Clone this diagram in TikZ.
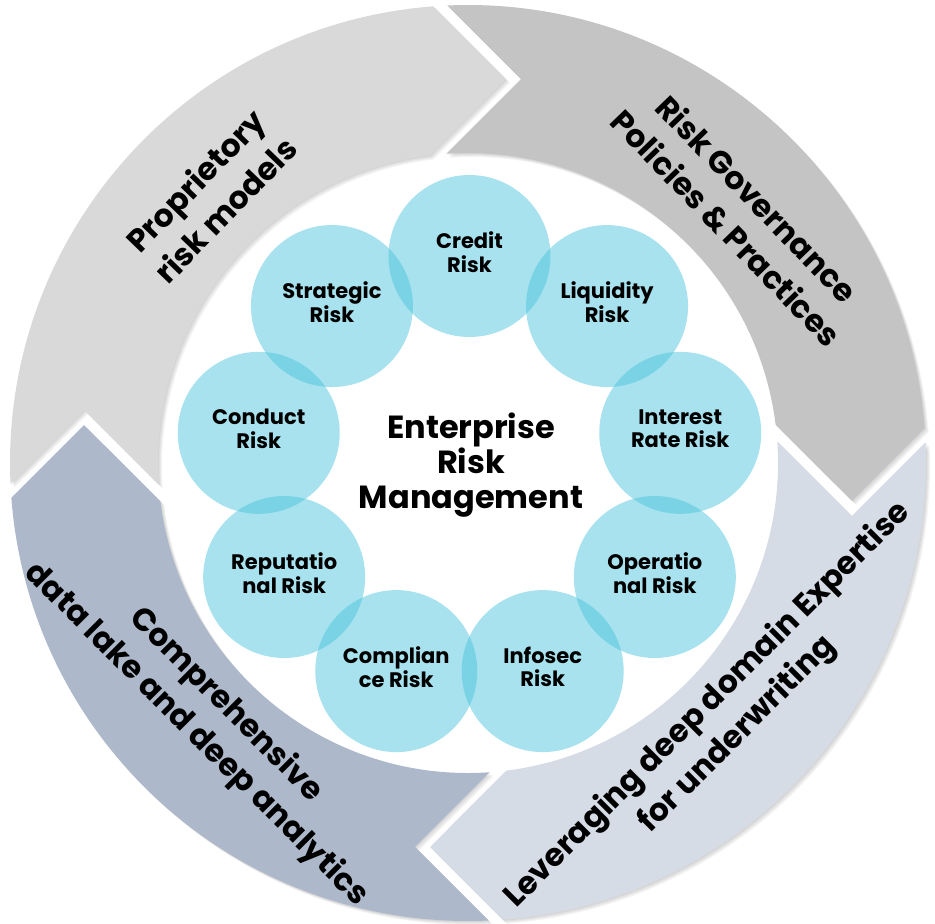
\documentclass[tikz,border=0pt]{standalone}
\usepackage{fontspec}
\setmainfont{Poppins}
\definecolor{segA}{HTML}{D9D9D9}
\definecolor{segB}{HTML}{C4C4C4}
\definecolor{segC}{HTML}{D6DCE5}
\definecolor{segD}{HTML}{ADB9CA}
\definecolor{riskfill}{HTML}{4FC5DD}
\newcommand\ringpath[1]{({92.57+#1}:458) arc[start angle={92.57+#1}, end angle={4.35+#1}, radius=458] -- ({-5.65+#1}:385.9) -- ({7.1+#1}:310) arc[start angle={7.1+#1}, end angle={94.0+#1}, radius=310] -- ({82.14+#1}:387.6) -- cycle}
\begin{document}
\begin{tikzpicture}[x=1pt,y=1pt,
  riskc/.style={circle, minimum size=162, inner sep=0pt, fill=riskfill, fill opacity=0.5, text opacity=1},
  risktxt/.style={align=center, inner sep=0pt, font=\bfseries\fontsize{21}{23.5}\selectfont},
  ringtxt/.style={align=center, inner sep=0pt, font=\bfseries\fontsize{31.5}{42}\selectfont},
  shadowfill/.style={black, opacity=0.045}]
\useasboundingbox (-468,-461) rectangle (467,463);
% shadows
\foreach \r in {0,90,-90,180}{
  \foreach \d in {1,2,3,4}{
    \fill[shadowfill, shift={(\d,-\d)}] \ringpath{\r};
  }
}
% segments
\fill[segA] \ringpath{90};
\fill[segB] \ringpath{0};
\fill[segC] \ringpath{-90};
\fill[segD] \ringpath{180};
% risk circles
\begin{scope}[shift={(1.5,-7)}]
\node[riskc] (credit) at (90:214) {};
\node[riskc] (liquidity) at (50:214) {};
\node[riskc] (interest) at (10:214) {};
\node[riskc] (operational) at (-30:214) {};
\node[riskc] (infosec) at (-70:214) {};
\node[riskc] (compliance) at (-110:214) {};
\node[riskc] (reputational) at (-150:214) {};
\node[riskc] (conduct) at (170:214) {};
\node[riskc] (strategic) at (130:214) {};
\end{scope}
\node[risktxt] (tcredit) at ([yshift=4]credit.center) {Credit\\Risk};
\node[risktxt] (tliquidity) at ([yshift=4]liquidity.center) {Liquidity\\Risk};
\node[risktxt] (tinterest) at ([yshift=4]interest.center) {Interest\\Rate Risk};
\node[risktxt] (toperational) at ([yshift=4]operational.center) {Operatio\\nal Risk};
\node[risktxt] (tinfosec) at ([yshift=4]infosec.center) {Infosec\\Risk};
\node[risktxt] (tcompliance) at ([yshift=4]compliance.center) {Complian\\ce Risk};
\node[risktxt] (treputational) at ([yshift=4]reputational.center) {Reputatio\\nal Risk};
\node[risktxt] (tconduct) at ([yshift=4]conduct.center) {Conduct\\Risk};
\node[risktxt] (tstrategic) at ([yshift=4]strategic.center) {Strategic\\Risk};
% centre
\node[align=center, font=\bfseries\fontsize{32}{35}\selectfont] (erm) at (3,-2) {Enterprise\\Risk\\Management};
% ring texts
\node[ringtxt, rotate=46] (prop) at (-258,268) {Proprietory\\risk models};
\node[ringtxt, rotate=-46] (gov) at (274,250) {Risk Governance\\Policies \& Practices};
\node[ringtxt, rotate=45] (lev) at (255,-257) {Leveraging deep domain Expertise\\for underwriting};
\node[ringtxt, rotate=-45] (comp) at (-257,-257) {Comprehensive\\data lake and deep analytics};
\end{tikzpicture}
\end{document}
